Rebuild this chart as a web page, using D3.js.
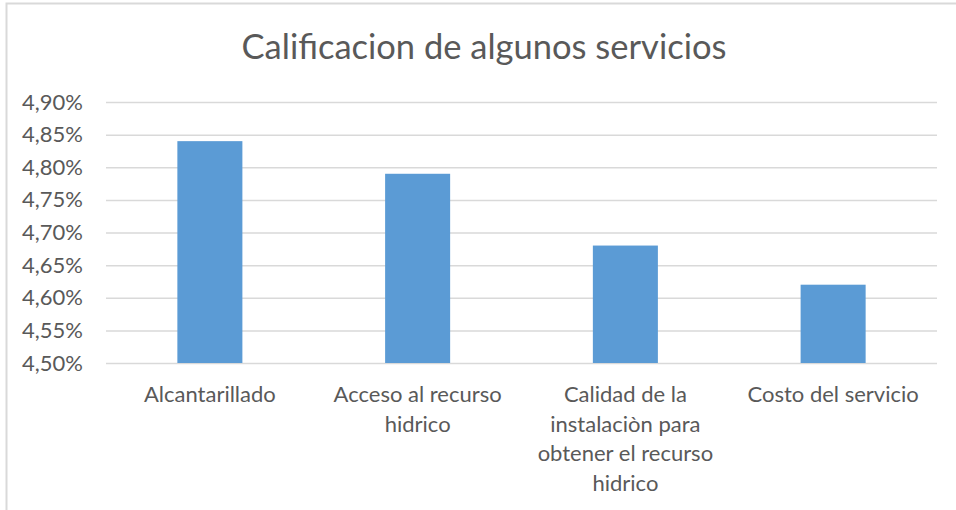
<!DOCTYPE html>
<html>
<head>
<meta charset="utf-8">
<script src="https://cdn.jsdelivr.net/npm/d3@7"></script>
<style>
  body { margin: 0; background: #fff; }
  text { font-family: Lato, "Open Sans", sans-serif; fill: #595959; }
</style>
</head>
<body>
<svg class="chart"></svg>
<script>
// data
var categories = ["Alcantarillado", "Acceso al recurso hidrico",
  "Calidad de la instalaciòn para obtener el recurso hidrico", "Costo del servicio"];
var categoryLines = [
  ["Alcantarillado"],
  ["Acceso al recurso", "hidrico"],
  ["Calidad de la", "instalaciòn para", "obtener el recurso", "hidrico"],
  ["Costo del servicio"]
];
var values = [0.0484, 0.0479, 0.0468, 0.0462];
var yTicks = [0.045, 0.0455, 0.046, 0.0465, 0.047, 0.0475, 0.048, 0.0485, 0.049];
var title = "Calificacion de algunos servicios";

var svgWidth = 956, svgHeight = 510;
var plot = { left: 106, right: 937, top: 102, bottom: 363 };

var svg = d3.select(".chart")
  .attr("width", svgWidth)
  .attr("height", svgHeight);

// chart area border (runs off the right and bottom)
svg.append("rect")
  .attr("x", 6.5).attr("y", 3.5)
  .attr("width", 970).attr("height", 530)
  .attr("fill", "none")
  .attr("stroke", "#d9d9d9")
  .attr("stroke-width", 2);

svg.append("text")
  .attr("x", 484)
  .attr("y", 59)
  .attr("text-anchor", "middle")
  .attr("font-size", 34.5)
  .text(title);

var xScale = d3.scaleBand()
  .domain(categories)
  .range([plot.left, plot.right])
  .paddingInner(0.687)
  .paddingOuter(0.3435);

var yScale = d3.scaleLinear()
  .domain([0.045, 0.049])
  .range([plot.bottom, plot.top]);

var locale = d3.formatLocale({ decimal: ",", thousands: ".", grouping: [3], currency: ["", "€"] });
var pct = locale.format(".2%");

var y_axis = d3.axisLeft(yScale)
  .tickValues(yTicks)
  .tickFormat(pct)
  .tickSize(-(plot.right - plot.left))
  .tickPadding(23);

var yG = svg.append("g")
  .attr("transform", "translate(" + plot.left + ",0)")
  .call(y_axis);
yG.select(".domain").remove();
yG.selectAll(".tick line")
  .attr("stroke", "#d9d9d9")
  .attr("stroke-width", 1.5);
yG.selectAll(".tick text")
  .attr("font-family", "Lato, 'Open Sans', sans-serif")
  .attr("font-size", 22)
  .attr("fill", "#595959");

svg.selectAll(".bar")
  .data(values)
  .enter()
  .append("rect")
  .attr("class", "bar")
  .attr("x", function (d, i) { return xScale(categories[i]); })
  .attr("y", function (d) { return yScale(d); })
  .attr("width", xScale.bandwidth())
  .attr("height", function (d) { return yScale(0.045) - yScale(d); })
  .attr("fill", "#5b9bd5");

// category labels, wrapped as in the picture
var labels = svg.selectAll(".cat")
  .data(categories)
  .enter()
  .append("text")
  .attr("class", "cat")
  .attr("text-anchor", "middle")
  .attr("font-size", 22)
  .attr("transform", function (d) {
    return "translate(" + (xScale(d) + xScale.bandwidth() / 2) + ",402)";
  });

labels.selectAll("tspan")
  .data(function (d, i) { return categoryLines[i]; })
  .enter()
  .append("tspan")
  .attr("x", 0)
  .attr("y", function (d, j) { return j * 29.5; })
  .text(function (d) { return d; });
</script>
</body>
</html>
